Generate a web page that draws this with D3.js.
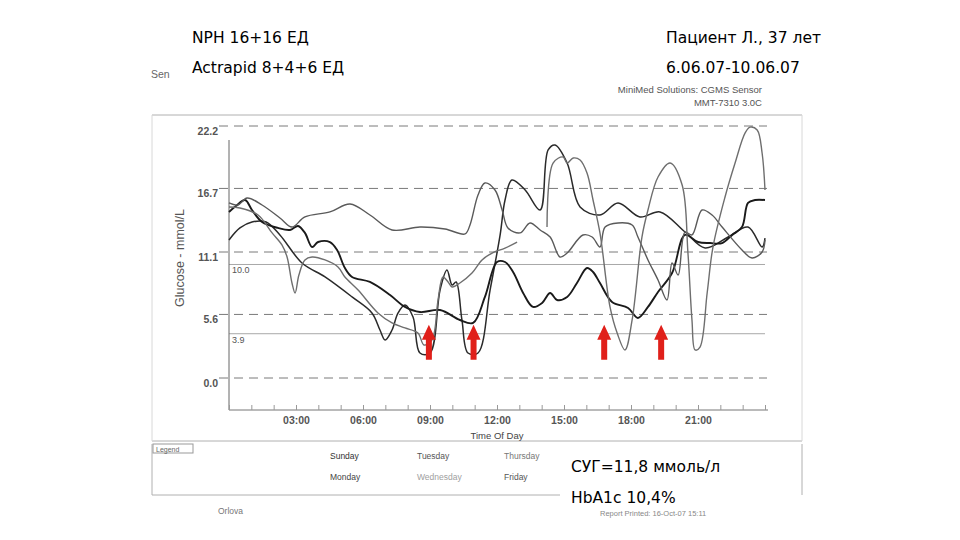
<!DOCTYPE html>
<html><head><meta charset="utf-8">
<script src="https://cdn.jsdelivr.net/npm/d3@7/dist/d3.min.js"></script>
<style>
html,body{margin:0;padding:0;background:#fff;}
svg{display:block;}
</style></head>
<body>
<svg id="c" width="960" height="540"></svg>
<script>
// ---- data ----
const yTickValues = [0.0, 5.6, 11.1, 16.7, 22.2];
const targetLines = [10.0, 3.9];
const xTickHours = [3, 6, 9, 12, 15, 18, 21];
const xTickLabels = ["03:00", "06:00", "09:00", "12:00", "15:00", "18:00", "21:00"];
const legendDays = ["Sunday", "Monday", "Tuesday", "Wednesday", "Thursday", "Friday"];
const arrowHours = [8.95, 10.95, 16.8, 19.35];
const arrowTipValue = 4.7;
const arrowBaseValue = 1.6;

// [hour, mmol/L]; null = sensor gap
const sunday = [[0,12.16],[0.49,13.22],[1.03,13.74],[1.66,13.74],[2.28,12.60],[3.27,10.13],[4.30,8.90],[5.51,7.14],[6.40,5.73],[6.76,4.23],[6.99,3.35],[7.30,4.23],[7.57,5.73],[7.88,6.43],[8.24,5.37],[8.55,2.2],[9.00,2.2],[9.45,7.75],[9.76,9.52],[9.99,8.19],[10.17,8.46],[10.43,5.11],[10.70,2.2],[11.15,2.2],[11.69,7.75],[12.14,12.60],[12.36,15.68],[12.67,17.44],[13.26,16.56],[13.93,14.80],[14.29,20.09],[14.60,20.53],[15.14,18.94],[15.72,15.07],[16.61,14.36],[17.42,15.42],[18.40,14.19],[19.30,14.63],[20.42,12.86],[21.32,11.45],[22.35,12.42],[23.24,13.30],[23.87,11.54],[24.0,12.33]];
const monday = [[0,14.63],[0.31,15.15],[0.72,15.68],[1.03,14.80],[1.48,13.74],[2.19,13.22],[2.73,13.04],[3.09,13.39],[3.40,12.78],[3.72,11.54],[3.99,11.98],[4.52,11.98],[4.84,11.28],[5.19,9.69],[5.51,8.90],[6.31,8.46],[7.21,7.31],[7.88,6.26],[8.55,5.81],[9.45,5.99],[10.34,5.11],[10.93,4.85],[11.46,7.14],[12.00,10.22],[12.36,10.22],[12.72,9.34],[13.17,7.49],[13.61,6.26],[14.02,6.61],[14.38,7.49],[14.69,6.87],[15.14,7.14],[15.58,8.37],[16.03,9.69],[16.30,9.34],[16.61,8.37],[17.15,6.70],[17.87,6.17],[18.31,5.29],[18.76,6.26],[19.21,7.58],[19.84,9.25],[20.42,12.60],[21.00,11.98],[21.54,11.89],[22.08,11.89],[22.53,12.60],[22.97,13.30],[23.24,15.42],[23.56,15.68],[24.0,15.68]];
const tuesday = [[0,15.42],[0.40,15.24],[0.81,15.86],[1.48,15.24],[2.28,14.10],[2.82,13.30],[3.40,14.19],[4.52,14.63],[5.42,15.33],[6.31,14.36],[7.30,13.04],[8.55,13.30],[9.67,13.13],[10.57,12.69],[10.79,13.48],[11.15,16.12],[11.46,17.18],[11.91,16.56],[12.23,14.80],[12.49,13.22],[13.03,12.78],[13.48,13.66],[13.93,13.04],[14.38,12.42],[14.82,10.66],[15.14,11.01],[15.85,12.60],[16.26,12.42],[16.61,11.54],[16.84,13.30],[17.42,13.66],[18.05,13.48],[18.31,12.42],[18.76,10.40],[19.21,8.63],[19.61,6.87],[19.84,10.13],[20.11,9.07],[20.42,12.86],[20.73,12.60],[21.18,14.80],[21.63,14.36],[22.08,13.30],[22.97,11.28],[23.42,10.57],[23.87,11.10],[24.0,12.16]];
const wednesday = [[0,15.07],[0.49,14.98],[1.30,14.36],[1.93,12.78],[2.37,11.72],[2.60,10.66],[2.82,8.37],[2.96,7.49],[3.13,9.07],[3.40,10.40],[3.72,10.66],[4.30,10.40],[4.88,9.78],[5.19,8.90],[5.78,7.75],[6.67,5.73],[7.30,4.85],[7.88,4.41],[8.46,3.96],[8.73,2.91],[9.09,3.35],[9.36,6.87],[9.58,8.90],[9.81,8.46],[9.99,8.02],[10.34,8.37],[10.88,9.25],[11.33,10.40],[11.78,11.01],[12.36,11.45],[12.90,11.98],[13.5,null],[14.24,13.30],[14.51,18.94],[14.96,19.47],[15.14,18.94],[15.41,19.38],[15.72,19.21],[16.03,18.06],[16.30,15.68],[16.61,12.78],[17.06,6.26],[17.38,3.96],[17.73,2.47],[18.05,5.11],[18.49,12.42],[18.76,14.80],[19.21,17.71],[19.75,18.94],[20.29,17.0],[20.55,11.01],[20.73,5.11],[20.87,2.47],[21.09,2.73],[21.41,7.49],[21.67,11.54],[22.21,15.95],[22.66,18.94],[23.11,21.59],[23.33,22.1],[23.65,21.85],[23.87,19.82],[24.0,16.56]];

const series = [
  {name:"Sunday", data:sunday, color:"#2a2a2a", width:1.5},
  {name:"Monday", data:monday, color:"#1a1a1a", width:1.9},
  {name:"Tuesday", data:tuesday, color:"#5a5a5a", width:1.4},
  {name:"Wednesday", data:wednesday, color:"#6e6e6e", width:1.4}
];
const legendColors = {Sunday:"#333", Monday:"#444", Tuesday:"#555", Wednesday:"#a0a0a0", Thursday:"#777", Friday:"#555"};

// ---- drawing ----
const svg = d3.select("#c");
const x = d3.scaleLinear().domain([0, 24]).range([229, 765]);
const y = d3.scaleLinear().domain([0, 22.2]).range([378, 126]);
const sans = "'Liberation Sans', Arial, sans-serif";
const tahoma = "'DejaVu Sans', Verdana, sans-serif";

// page frame lines
const frame = svg.append("g").attr("stroke", "#b0b0b0").attr("fill", "none");
frame.append("line").attr("x1",152).attr("x2",802).attr("y1",115).attr("y2",115);
frame.append("line").attr("x1",152).attr("x2",802).attr("y1",441).attr("y2",441);
frame.append("line").attr("x1",152).attr("x2",152).attr("y1",115).attr("y2",441).attr("stroke","#d8d8d8");
frame.append("line").attr("x1",802).attr("x2",802).attr("y1",115).attr("y2",441).attr("stroke","#d8d8d8");
// legend box
frame.append("path").attr("d","M152,444 V495 H560");
frame.append("line").attr("x1",802).attr("x2",802).attr("y1",444).attr("y2",495);
frame.append("rect").attr("x",153).attr("y",444).attr("width",40).attr("height",9).attr("stroke","#999");
svg.append("text").attr("x",156).attr("y",451.5).text("Legend")
  .attr("font-family",sans).attr("font-size",7).attr("fill","#666");

// dashed gridlines
svg.append("g").selectAll("line").data(yTickValues).join("line")
  .attr("x1", 219).attr("x2", x(24) + 2)
  .attr("y1", d => y(d)).attr("y2", d => y(d))
  .attr("stroke", "#7a7a7a").attr("stroke-width", 1).attr("stroke-dasharray", "9,6");
// target range lines
svg.append("g").selectAll("line").data(targetLines).join("line")
  .attr("x1", x(0)).attr("x2", x(24))
  .attr("y1", d => y(d)).attr("y2", d => y(d))
  .attr("stroke", "#a8a8a8").attr("stroke-width", 1);
svg.append("g").selectAll("text").data(targetLines).join("text")
  .attr("x", x(0) + 3).attr("y", d => y(d) + 9)
  .text(d => d.toFixed(1))
  .attr("font-family", sans).attr("font-size", 9).attr("fill", "#555");

// y axis
const yAxis = svg.append("g").attr("transform", `translate(${x(0)},0)`)
  .call(d3.axisLeft(y).tickValues(yTickValues).tickSize(0).tickPadding(11).tickFormat(d3.format(".1f")));
yAxis.select(".domain").remove();
yAxis.append("line").attr("x1",0).attr("x2",0).attr("y1",140).attr("y2",y(0)+32).attr("stroke","#666");
yAxis.selectAll(".tick text").attr("font-family", sans).attr("font-size", 10.5).attr("font-weight","bold")
  .attr("fill", "#555").attr("transform","translate(0,5)");

svg.append("text").attr("transform", "translate(184,258) rotate(-90)")
  .attr("text-anchor","middle").text("Glucose - mmol/L")
  .attr("font-family", sans).attr("font-size", 12.5).attr("fill", "#555");

// x axis
const xAxis = svg.append("g").attr("transform", "translate(0,410)")
  .call(d3.axisBottom(x).tickValues(d3.range(0, 25)).tickSize(-5).tickPadding(7)
    .tickFormat(d => { const i = xTickHours.indexOf(d); return i >= 0 ? xTickLabels[i] : ""; }));
xAxis.select(".domain").attr("stroke", "#777").attr("d", `M${x(0)},0H${x(24)+3}`);
xAxis.selectAll(".tick line").attr("stroke", "#999");
xAxis.selectAll(".tick text").attr("font-family", sans).attr("font-size", 10.5).attr("font-weight","bold").attr("fill", "#555");
svg.append("text").attr("x", x(12)).attr("y", 439).attr("text-anchor","middle").text("Time Of Day")
  .attr("font-family", sans).attr("font-size", 9.5).attr("fill", "#444");

// glucose traces
const line = d3.line().defined(d => d[1] != null)
  .x(d => x(d[0])).y(d => y(d[1])).curve(d3.curveCatmullRom.alpha(0.5));
svg.append("g").selectAll("path").data(series).join("path")
  .attr("d", d => line(d.data)).attr("fill", "none")
  .attr("stroke", d => d.color).attr("stroke-width", d => d.width).attr("stroke-linejoin","round");

// red arrows
const tipY = y(arrowTipValue), baseY = y(arrowBaseValue);
svg.append("g").selectAll("path").data(arrowHours).join("path")
  .attr("d", h => { const cx = x(h); return `M${cx},${tipY} L${cx+7},${tipY+15} L${cx+3},${tipY+15} L${cx+3},${baseY} L${cx-3},${baseY} L${cx-3},${tipY+15} L${cx-7},${tipY+15} Z`; })
  .attr("fill", "#e0201a");

// legend
const lg = svg.append("g");
legendDays.forEach((d, i) => {
  const col = Math.floor(i / 2), row = i % 2;
  lg.append("text").attr("x", 330 + col * 87).attr("y", 459 + row * 21).text(d)
    .attr("font-family", sans).attr("font-size", 8.5).attr("fill", legendColors[d]);
});

// header texts
const T = (tx, ty, s, size, fam, fill, anchor) => svg.append("text").attr("x", tx).attr("y", ty).text(s)
  .attr("font-family", fam).attr("font-size", size).attr("fill", fill).attr("text-anchor", anchor || "start");
T(192, 43, "NPH 16+16 ЕД", 15.5, tahoma, "#000");
T(192, 73, "Actrapid 8+4+6 ЕД", 15.5, tahoma, "#000");
T(151, 78, "Sen", 10.5, sans, "#666");
T(666, 43, "Пациент Л., 37 лет", 15.5, tahoma, "#000");
T(666, 73, "6.06.07-10.06.07", 15.5, tahoma, "#000");
T(762, 93, "MiniMed Solutions: CGMS Sensor", 9.5, sans, "#555", "end");
T(762, 106, "MMT-7310 3.0C", 9.5, sans, "#555", "end");
T(571, 472, "СУГ=11,8 ммоль/л", 15.5, tahoma, "#000");
T(571, 503, "HbA1c 10,4%", 15.5, tahoma, "#000");
T(600, 516, "Report Printed: 16-Oct-07 15:11", 7.5, sans, "#888");
T(218, 514, "Orlova", 8.5, sans, "#777");
</script>
</body></html>
